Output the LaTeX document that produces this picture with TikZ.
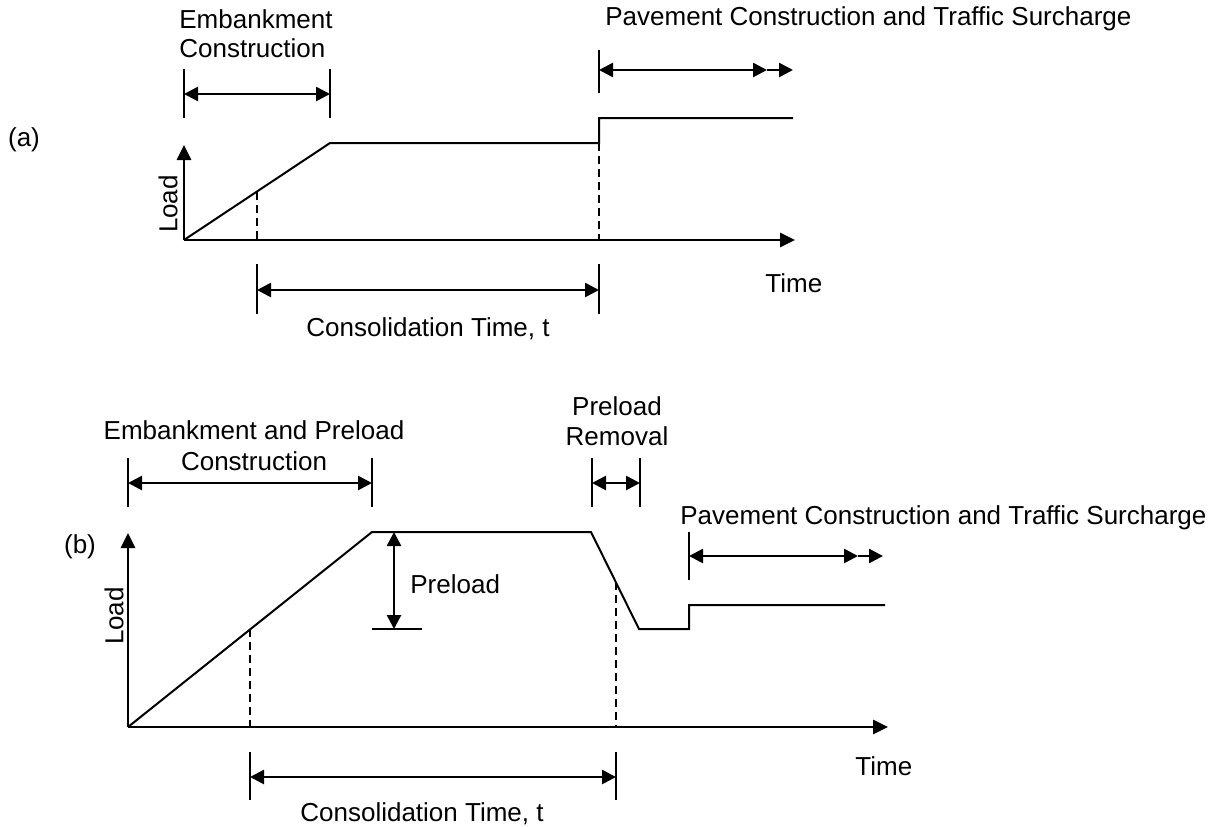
\documentclass[tikz,border=0pt]{standalone}
\usepackage{fontspec}
\setmainfont{Liberation Sans}
\usetikzlibrary{arrows.meta}
\begin{document}
\begin{tikzpicture}[x=0.5pt,y=-0.5pt,
  curve/.style={line width=1pt,line join=miter},
  axisline/.style={line width=1.4pt,-{Triangle[length=7.5pt,width=7pt]}},
  dimline/.style={line width=1.3pt,{Triangle[length=7pt,width=7pt]}-{Triangle[length=7pt,width=7pt]}},
  headend/.style={line width=1.3pt,-{Triangle[length=7pt,width=7pt]}},
  tickline/.style={line width=0.8pt},
  guide/.style={line width=0.8pt,dash pattern=on 4pt off 2.5pt},
  lbl/.style={inner sep=0pt,font=\fontsize{13}{15.6}\selectfont},
]
\useasboundingbox (0,0) rectangle (1226,826);

% ================= Panel (a) =================
\node[lbl] (alabel) at (24,140) {(a)};
\coordinate (aO) at (184,240);
\coordinate (aY) at (184,145);
\coordinate (aX) at (795,240);
\draw[axisline] (aO) -- (aY);
\draw[axisline] (aO) -- (aX);
\node[lbl,rotate=90] (aload) at (168,204) {Load};
\node[lbl,anchor=base west] (atime) at (765,292) {Time};

% load history
\coordinate (aP1) at (330,143);
\coordinate (aS1) at (599,143);
\coordinate (aS2) at (599,118);
\coordinate (aE) at (793,118);
\draw[curve] (aO) -- (aP1) -- (aS1) -- (aS2) -- (aE);

% guides
\coordinate (aG1t) at (257,192);
\coordinate (aG1b) at (257,240);
\draw[guide] (aG1t) -- (aG1b);
\coordinate (aG2b) at (599,240);
\draw[guide] (aS1) -- (aG2b);

% embankment construction
\node[lbl,anchor=base west] (aemb1) at (179,28) {Embankment};
\node[lbl,anchor=base west] (aemb2) at (179,57) {Construction};
\coordinate (aT1t) at (184,69);  \coordinate (aT1b) at (184,118);
\coordinate (aT2t) at (330,69);  \coordinate (aT2b) at (330,118);
\draw[tickline] (aT1t) -- (aT1b);
\draw[tickline] (aT2t) -- (aT2b);
\coordinate (aA1) at (184,94); \coordinate (aA2) at (330,94);
\draw[dimline] (aA1) -- (aA2);

% pavement construction
\node[lbl,anchor=base west] (apav) at (605,25) {Pavement Construction and Traffic Surcharge};
\coordinate (aT3t) at (599,50); \coordinate (aT3b) at (599,93);
\draw[tickline] (aT3t) -- (aT3b);
\coordinate (aB1) at (599,70); \coordinate (aB2) at (767,70); \coordinate (aB3) at (793,70);
\draw[dimline] (aB1) -- (aB2);
\draw[headend] (aB2) -- (aB3);

% consolidation time
\coordinate (aT4t) at (257,264); \coordinate (aT4b) at (257,314);
\coordinate (aT5t) at (599,264); \coordinate (aT5b) at (599,314);
\draw[tickline] (aT4t) -- (aT4b);
\draw[tickline] (aT5t) -- (aT5b);
\coordinate (aC1) at (257,290); \coordinate (aC2) at (599,290);
\draw[dimline] (aC1) -- (aC2);
\node[lbl,anchor=base] (acons) at (428,336) {Consolidation Time, t};

% ================= Panel (b) =================
\node[lbl] (blabel) at (80,547) {(b)};
\coordinate (bO) at (128,727);
\coordinate (bY) at (128,533);
\coordinate (bX) at (888,727);
\draw[axisline] (bO) -- (bY);
\draw[axisline] (bO) -- (bX);
\node[lbl,rotate=90] (bload) at (114,616) {Load};
\node[lbl,anchor=base west] (btime) at (855,775) {Time};

% load history
\coordinate (bP1) at (372,532);
\coordinate (bP2) at (591,532);
\coordinate (bP3) at (639,629);
\coordinate (bP4) at (689,629);
\coordinate (bP5) at (689,605);
\coordinate (bE) at (885,605);
\draw[curve] (bO) -- (bP1) -- (bP2) -- (bP3) -- (bP4) -- (bP5) -- (bE);

% guides
\coordinate (bG1t) at (250,629); \coordinate (bG1b) at (250,727);
\draw[guide] (bG1t) -- (bG1b);
\coordinate (bG2t) at (616,582); \coordinate (bG2b) at (616,727);
\draw[guide] (bG2t) -- (bG2b);

% embankment and preload construction
\node[lbl,anchor=base] (bemb1) at (254,439) {Embankment and Preload};
\node[lbl,anchor=base] (bemb2) at (254,470) {Construction};
\coordinate (bT1t) at (128,458); \coordinate (bT1b) at (128,507);
\coordinate (bT2t) at (372,458); \coordinate (bT2b) at (372,507);
\draw[tickline] (bT1t) -- (bT1b);
\draw[tickline] (bT2t) -- (bT2b);
\coordinate (bA1) at (128,483); \coordinate (bA2) at (372,483);
\draw[dimline] (bA1) -- (bA2);

% preload
\coordinate (bPL1) at (394,532); \coordinate (bPL2) at (394,629);
\draw[dimline] (bPL1) -- (bPL2);
\coordinate (bPLa) at (372,629); \coordinate (bPLb) at (422,629);
\draw[tickline] (bPLa) -- (bPLb);
\node[lbl,anchor=base west] (bpre) at (410,593) {Preload};

% preload removal
\node[lbl,anchor=base] (brem1) at (617,415) {Preload};
\node[lbl,anchor=base] (brem2) at (617,445) {Removal};
\coordinate (bT3t) at (592,458); \coordinate (bT3b) at (592,507);
\coordinate (bT4t) at (640,458); \coordinate (bT4b) at (640,507);
\draw[tickline] (bT3t) -- (bT3b);
\draw[tickline] (bT4t) -- (bT4b);
\coordinate (bR1) at (592,483); \coordinate (bR2) at (640,483);
\draw[dimline] (bR1) -- (bR2);

% pavement construction
\node[lbl,anchor=base west] (bpav) at (680,524) {Pavement Construction and Traffic Surcharge};
\coordinate (bT5t) at (689,532); \coordinate (bT5b) at (689,580);
\draw[tickline] (bT5t) -- (bT5b);
\coordinate (bB1) at (689,556); \coordinate (bB2) at (858,556); \coordinate (bB3) at (883,556);
\draw[dimline] (bB1) -- (bB2);
\draw[headend] (bB2) -- (bB3);

% consolidation time
\coordinate (bT6t) at (250,752); \coordinate (bT6b) at (250,800);
\coordinate (bT7t) at (616,752); \coordinate (bT7b) at (616,800);
\draw[tickline] (bT6t) -- (bT6b);
\draw[tickline] (bT7t) -- (bT7b);
\coordinate (bC1) at (250,777); \coordinate (bC2) at (616,777);
\draw[dimline] (bC1) -- (bC2);
\node[lbl,anchor=base] (bcons) at (422,821) {Consolidation Time, t};
\end{tikzpicture}
\end{document}
